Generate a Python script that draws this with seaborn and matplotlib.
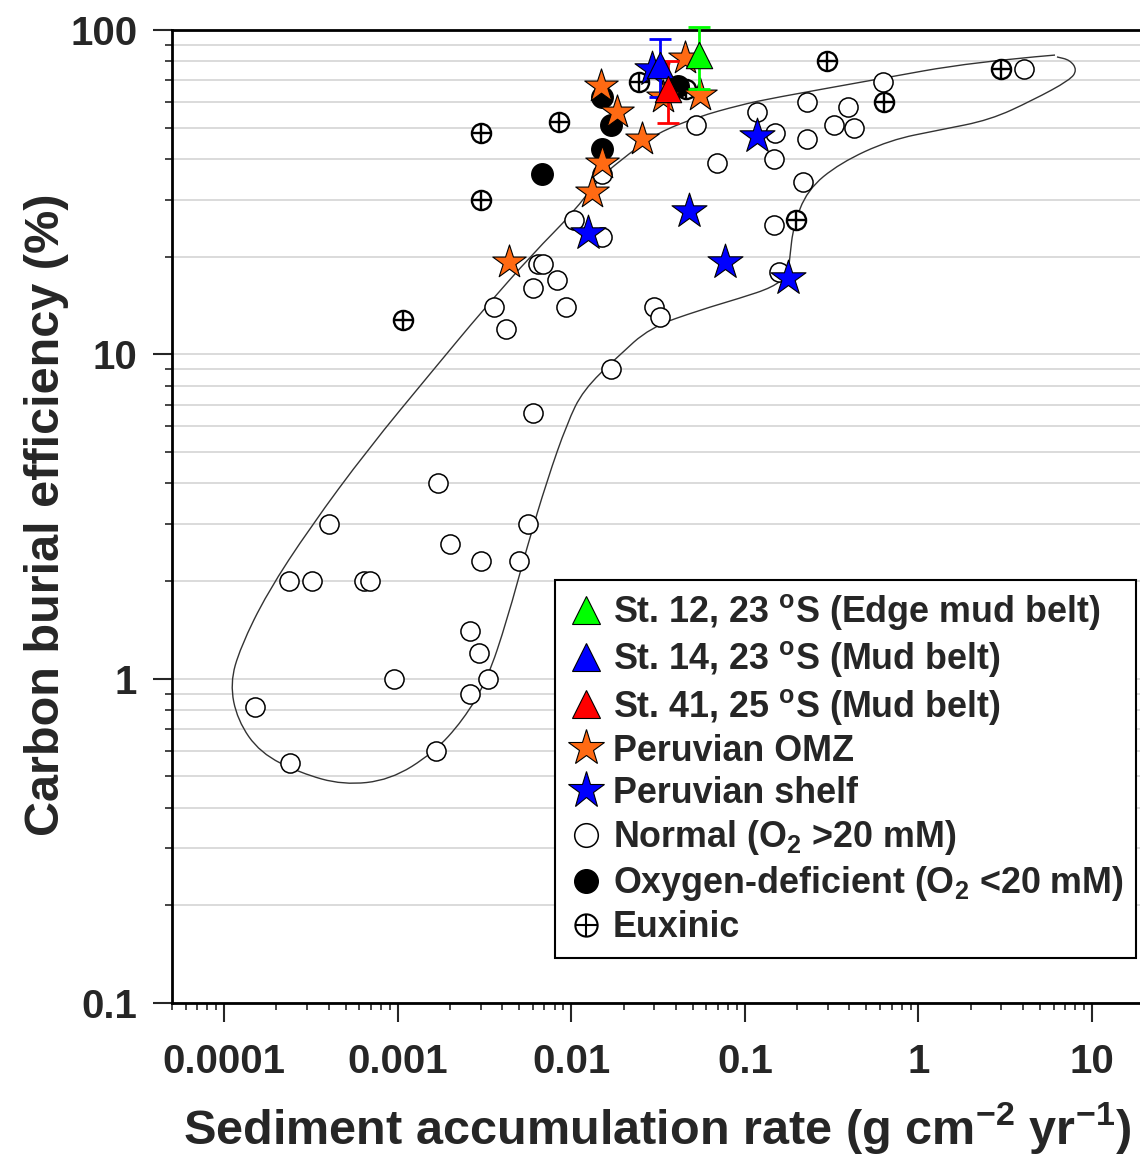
import matplotlib
matplotlib.use("Agg")
import numpy as np
import matplotlib.pyplot as plt
from matplotlib.lines import Line2D
from matplotlib.path import Path
from matplotlib.patches import PathPatch
import seaborn as sns

# ---- data ----
normal_x = [1.5e-4, 2.4e-4, 2.35e-4, 3.2e-4, 4.0e-4, 6.4e-4, 6.9e-4, 9.5e-4, 1.7e-3, 1.65e-3,
            2.0e-3, 2.6e-3, 2.6e-3, 2.95e-3, 3.0e-3, 3.3e-3, 3.6e-3, 4.2e-3, 5.0e-3, 5.6e-3,
            6.0e-3, 6.0e-3, 6.4e-3, 6.9e-3, 8.3e-3, 9.3e-3, 0.0104, 0.015, 0.015, 0.017,
            0.030, 0.0325, 0.069, 0.0523, 0.1175, 0.149, 0.147, 0.228, 0.228, 0.216,
            0.147, 0.157, 0.327, 0.393, 0.425, 0.625, 4.06]
normal_y = [0.82, 0.55, 2.0, 2.0, 3.0, 2.0, 2.0, 1.0, 4.0, 0.6,
            2.6, 1.4, 0.9, 1.2, 2.3, 1.0, 14, 12, 2.3, 3.0,
            6.6, 16, 19, 19, 17, 14, 26, 23, 36, 9.0,
            14, 13, 39, 51, 56, 48, 40, 60, 46, 34,
            25, 18, 51, 58, 50, 69, 76]

euxinic_x = [3.0e-3, 3.0e-3, 1.07e-3, 8.5e-3, 0.0245, 0.046, 0.297, 0.634, 0.197, 2.99]
euxinic_y = [48, 30, 12.8, 52, 69, 66, 80, 60, 26, 76]

anoxic_x = [6.8e-3, 0.015, 0.017, 0.015, 0.041]
anoxic_y = [36, 62, 51, 43, 67]

omz_x = [4.4e-3, 0.0132, 0.0149, 0.0184, 0.0254, 0.0151, 0.0453, 0.0552, 0.0338]
omz_y = [19.3, 31.6, 67, 56, 46, 39, 82, 63, 62]

shelf_x = [0.0125, 0.0477, 0.077, 0.1175, 0.177, 0.029]
shelf_y = [23.7, 27.7, 19.3, 47, 17.2, 76]

st_labels = ["St. 12, 23 $^{\\mathrm{o}}$S (Edge mud belt)",
             "St. 14, 23 $^{\\mathrm{o}}$S (Mud belt)",
             "St. 41, 25 $^{\\mathrm{o}}$S (Mud belt)"]
st_colors = ["#00ff00", "#0000ff", "#ff0000"]
st_x = [0.0545, 0.0325, 0.036]
st_y = [84, 78, 66]
st_err = [18, 16, 14.5]

# hand-drawn envelope around the normal sites (guide points)
outline_x = [6.12, 2.06, 0.547, 0.145, 0.0937, 0.0531, 0.0312, 0.0218, 0.01466, 0.01023,
             0.00603, 0.0031, 0.0016, 6.67e-4, 3.13e-4, 1.77e-4, 1.24e-4, 1.08e-4, 1.19e-4,
             1.61e-4, 2.74e-4, 4.84e-4, 9.04e-4, 0.0016, 2.38e-3, 3.27e-3, 4.27e-3, 5.56e-3,
             7.26e-3, 9.46e-3, 0.0117, 0.0184, 0.0284, 0.0552, 0.0937, 0.145, 0.177, 0.182,
             0.19, 0.228, 0.353, 0.685, 1.33, 2.58, 4.57, 7.47, 8.2, 7.47, 6.28]
outline_y = [83.7, 79.7, 70.1, 61.7, 58.7, 53.9, 48.1, 41.8, 35.2, 27.3,
             20.5, 13.7, 8.95, 5.07, 2.93, 1.84, 1.25, 0.968, 0.745,
             0.59, 0.512, 0.47, 0.487, 0.59, 0.745, 0.99, 1.52, 2.55,
             4.1, 6.14, 7.76, 9.81, 12.1, 13.7, 14.9, 16.1, 17.6, 20.2,
             24.7, 32.1, 38.9, 45.8, 49.2, 52.8, 60.8, 70.1, 75.3, 80.8, 82.6]

xtick_vals = [0.0001, 0.001, 0.01, 0.1, 1, 10]
xtick_labels = ["0.0001", "0.001", "0.01", "0.1", "1", "10"]
ytick_vals = [0.1, 1, 10, 100]
ytick_labels = ["0.1", "1", "10", "100"]

# ---- style ----
sns.set_style("ticks")
plt.rcParams["font.family"] = ["Liberation Sans", "DejaVu Sans"]
plt.rcParams["font.weight"] = "bold"
plt.rcParams["mathtext.fontset"] = "custom"
plt.rcParams["mathtext.rm"] = "Liberation Sans:bold"
plt.rcParams["mathtext.bf"] = "Liberation Sans:bold"
plt.rcParams["mathtext.it"] = "Liberation Sans:bold"

ORANGE = "#ff6a13"
FS_TICK = 29
FS_LEG = 25.8
FS_LAB = 35

fig = plt.figure(figsize=(11.4, 11.55), dpi=100)
ax = fig.add_axes([172 / 1140, 1 - 1003 / 1155, (1140 - 172) / 1140, (1003 - 30) / 1155])
ax.set_xscale("log")
ax.set_yscale("log")

# smooth envelope: guide points used as quadratic bezier controls (log space midpoints)
px = np.array(outline_x)
py = np.array(outline_y)
verts = [(px[0], py[0])]
codes = [Path.MOVETO]
for i in range(1, len(px) - 1):
    mx = np.sqrt(px[i] * px[i + 1])
    my = np.sqrt(py[i] * py[i + 1])
    verts += [(px[i], py[i]), (mx, my)]
    codes += [Path.CURVE3, Path.CURVE3]
verts.append((px[-1], py[-1]))
codes.append(Path.LINETO)
ax.add_patch(PathPatch(Path(verts, codes), facecolor="none", edgecolor="#333333",
                       lw=1.0, zorder=2))

sns.scatterplot(x=normal_x, y=normal_y, ax=ax, marker="o", s=190, color="white",
                edgecolor="black", linewidth=1.1, zorder=3)
sns.scatterplot(x=euxinic_x, y=euxinic_y, ax=ax, marker="o", s=190, color="white",
                edgecolor="black", linewidth=1.7, zorder=3)
sns.scatterplot(x=euxinic_x, y=euxinic_y, ax=ax, marker="+", s=190, color="black",
                linewidth=1.7, zorder=3)
sns.scatterplot(x=anoxic_x, y=anoxic_y, ax=ax, marker="o", s=240, color="black",
                edgecolor="black", linewidth=1, zorder=4)
sns.scatterplot(x=omz_x, y=omz_y, ax=ax, marker="*", s=640, color=ORANGE,
                edgecolor="black", linewidth=0.8, zorder=5)
sns.scatterplot(x=shelf_x, y=shelf_y, ax=ax, marker="*", s=700, color="#0000ff",
                edgecolor="black", linewidth=0.8, zorder=5)

for xv, yv, ev, c in zip(st_x, st_y, st_err, st_colors):
    eb = ax.errorbar(xv, yv, yerr=ev, fmt="none", ecolor=c, elinewidth=2,
                     capsize=8, capthick=2, zorder=6)
    for art in eb.lines[1] + eb.lines[2]:
        art.set_clip_on(False)
    ax.scatter([xv], [yv], marker="^", s=360, color=c, edgecolor="black",
               linewidth=0.8, zorder=7)

ax.set_xlim(5e-5, 18.9)
ax.set_ylim(0.1, 100)

ax.set_xticks(xtick_vals)
ax.set_xticklabels(xtick_labels)
ax.set_yticks(ytick_vals)
ax.set_yticklabels(ytick_labels)
ax.tick_params(which="major", direction="out", length=14, width=1.5,
               labelsize=FS_TICK, pad=11)
ax.tick_params(axis="x", which="major", pad=15)
ax.tick_params(which="minor", direction="out", length=5, width=1.2)
for lab in ax.get_xticklabels() + ax.get_yticklabels():
    lab.set_fontweight("bold")

ax.grid(True, which="both", axis="y", color="#d4d4d4", lw=1.2, zorder=0)
ax.grid(False, axis="x", which="both")
ax.set_axisbelow(True)

for side in ["top", "left", "bottom"]:
    ax.spines[side].set_linewidth(2)
    ax.spines[side].set_color("black")
ax.spines["right"].set_visible(False)

ax.set_xlabel("Sediment accumulation rate (g cm$^{\\mathrm{-2}}$ yr$^{\\mathrm{-1}}$)",
              fontsize=FS_LAB, fontweight="bold")
ax.set_ylabel("Carbon burial efficiency (%)", fontsize=FS_LAB, fontweight="bold")
ax.xaxis.set_label_coords(0.501, -0.1)
ax.yaxis.set_label_coords(-0.106, 0.5015)

# ---- legend ----
handles = []
for c in st_colors:
    handles.append(Line2D([], [], ls="none", marker="^", markersize=20,
                          markerfacecolor=c, markeredgecolor="black", markeredgewidth=0.8))
handles.append(Line2D([], [], ls="none", marker="*", markersize=27,
                      markerfacecolor=ORANGE, markeredgecolor="black", markeredgewidth=0.8))
handles.append(Line2D([], [], ls="none", marker="*", markersize=28,
                      markerfacecolor="#0000ff", markeredgecolor="black", markeredgewidth=0.8))
handles.append(Line2D([], [], ls="none", marker="o", markersize=17,
                      markerfacecolor="white", markeredgecolor="black", markeredgewidth=1.1))
handles.append(Line2D([], [], ls="none", marker="o", markersize=17,
                      markerfacecolor="black", markeredgecolor="black"))
eux_c = Line2D([], [], ls="none", marker="o", markersize=16,
               markerfacecolor="white", markeredgecolor="black", markeredgewidth=1.5)
eux_p = Line2D([], [], ls="none", marker="+", markersize=16,
               markeredgecolor="black", markeredgewidth=1.5)
handles.append((eux_c, eux_p))
labels = st_labels + ["Peruvian OMZ", "Peruvian shelf",
                      "Normal (O$_{\\mathrm{2}}$ >20 mM)",
                      "Oxygen-deficient (O$_{\\mathrm{2}}$ <20 mM)", "Euxinic"]

leg = ax.legend(handles, labels, loc="upper left", bbox_to_anchor=(0.396, 0.435),
                borderaxespad=0, prop={"weight": "bold", "size": FS_LEG},
                frameon=True, fancybox=False, framealpha=1, edgecolor="black",
                borderpad=0.35, handlelength=1.0, handletextpad=0.25, labelspacing=0.2)
leg.get_frame().set_linewidth(1.5)
leg.set_zorder(10)

fig.savefig("out.png", dpi=100)
